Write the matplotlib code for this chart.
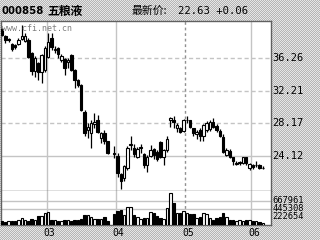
import numpy as np
import matplotlib
matplotlib.use('Agg')
import matplotlib.pyplot as plt
from matplotlib.colors import ListedColormap
from matplotlib.transforms import blended_transform_factory

# daily candles, Feb -> mid June (index 33 = no trade)
opens = [39.85, 39.00, 38.50, 38.00, 37.90, 38.00, 38.60, 38.40, 38.50, 36.90,
         34.60, 35.60, 34.50, 34.80, 36.40, 38.70, 37.30, 37.50, 36.00, 36.10,
         35.80, 36.60, 34.80, 33.50, 32.90, 29.50, 27.30, 26.90, 28.00, 28.60,
         26.30, 26.90, 25.90, np.nan, 24.40, 24.10, 21.80, 21.40, 22.60, 25.40,
         25.10, 24.00, 25.10, 24.30, 23.00, 24.10, 24.90, 24.60, 25.80, 23.90,
         24.80, 28.50, 28.60, 27.60, 27.50, 27.20, 28.50, 28.50, 27.50, 26.80,
         27.30, 26.60, 27.30, 27.40, 28.30, 27.80, 27.20, 26.50, 24.20, 24.70,
         23.90, 23.10, 23.20, 23.20, 23.90, 22.60, 23.00, 22.90, 23.00, 22.57]
highs = [40.00, 39.10, 38.80, 38.10, 38.00, 38.70, 40.30, 39.30, 38.70, 37.00,
         36.50, 35.80, 36.80, 37.70, 39.40, 39.40, 37.70, 37.60, 36.80, 36.30,
         36.30, 36.80, 34.90, 33.60, 33.00, 29.80, 28.20, 28.60, 29.40, 29.20,
         27.00, 27.30, 26.00, np.nan, 25.30, 24.40, 22.00, 23.00, 25.30, 26.60,
         25.60, 25.20, 25.60, 24.50, 24.20, 25.40, 25.10, 24.80, 26.00, 25.00,
         26.60, 28.90, 29.00, 28.20, 27.70, 28.70, 29.00, 28.60, 27.60, 27.30,
         27.50, 28.10, 28.40, 28.50, 28.80, 28.00, 27.40, 26.80, 25.10, 24.90,
         24.00, 23.40, 23.50, 24.00, 24.00, 23.20, 23.10, 23.50, 23.10, 22.80]
lows = [38.95, 38.10, 38.30, 37.10, 37.40, 37.90, 38.50, 38.30, 36.20, 34.20,
        33.90, 33.50, 33.20, 34.50, 36.20, 37.30, 36.90, 36.30, 35.80, 34.20,
        35.00, 34.60, 32.50, 32.60, 29.70, 26.60, 26.30, 25.10, 27.50, 26.90,
        25.70, 25.60, 24.30, np.nan, 23.80, 21.50, 20.00, 21.00, 22.40, 24.80,
        23.90, 23.80, 24.50, 22.60, 22.10, 24.00, 23.70, 23.40, 23.80, 22.90,
        24.60, 27.70, 27.60, 27.00, 26.90, 27.00, 28.20, 27.50, 26.60, 26.20,
        26.00, 26.00, 27.10, 27.20, 27.50, 27.00, 26.40, 24.40, 24.10, 23.80,
        22.90, 22.90, 23.00, 23.10, 23.00, 22.40, 22.50, 22.70, 22.50, 22.50]
closes = [39.10, 38.50, 38.60, 37.40, 37.60, 38.50, 39.00, 39.00, 36.40, 34.60,
          36.30, 34.50, 36.60, 37.50, 38.30, 37.60, 37.40, 36.70, 36.50, 35.00,
          36.00, 34.80, 33.50, 32.90, 29.80, 26.90, 27.70, 28.20, 28.30, 27.00,
          26.90, 26.00, 24.40, np.nan, 24.30, 22.00, 21.00, 22.80, 25.10, 25.60,
          24.30, 25.00, 25.20, 23.00, 24.00, 24.80, 24.20, 23.70, 24.00, 24.80,
          26.20, 28.80, 28.30, 27.90, 27.10, 28.60, 28.60, 27.70, 26.90, 27.10,
          26.60, 27.90, 28.20, 28.30, 27.70, 27.30, 26.60, 24.60, 24.80, 24.00,
          23.40, 23.20, 23.30, 23.90, 23.20, 23.10, 22.70, 23.00, 22.57, 22.63]
volumes = [119700, 75100, 119700, 103000, 119700, 147500, 194800, 130800, 103000, 167000,
           147500, 242100, 242100, 334000, 353500, 147500, 130800, 103000, 103000, 130800,
           130800, 103000, 130800, 130800, 167000, 286700, 286700, 214300, 167000, 175300,
           167000, 214300, 111300, np.nan, 306200, 381300, 425800, 286700, 501000, 501000,
           286700, 214300, 175300, 194800, 194800, 361800, 334000, 242100, 194800, 175300,
           473100, 890600, 612300, 334000, 334000, 398000, 334000, 306200, 306200, 194800,
           214300, 334000, 306200, 194800, 130800, 194800, 214300, 334000, 214300, 147500,
           130800, 103000, 130800, 103000, 130800, 130800, 103000, 103000, 75100, 64000]

price_ticks = [36.26, 32.21, 28.17, 24.12]
vol_ticks = [667961, 445308, 222654]
month_labels = ['03', '04', '05', '06']
month_starts = [14, 35, 56, 76]

W, H = 320, 240
fig = plt.figure(figsize=(3.2, 2.4), dpi=100)

# dithered grey backdrop
bg = fig.add_axes([0, 0, 1, 1])
yy, xx = np.mgrid[0:H, 0:W]
bg.imshow((xx + yy) % 2, cmap=ListedColormap(['#e6e6e6', '#b4b4b4']),
          interpolation='nearest', aspect='auto')
bg.axis('off')


def box(x0, y0, x1, y1):
    return [x0 / W, 1 - y1 / H, (x1 - x0) / W, (y1 - y0) / H]


ax = fig.add_axes(box(1, 21, 271, 191))
vax = fig.add_axes(box(1, 191, 271, 225))

o = np.array(opens)
c = np.array(closes)
x = np.arange(len(o))
ok = ~np.isnan(o)
up = c >= o
colors = ['white' if u else 'black' for u in up]

for a in (ax, vax):
    a.set_facecolor('white')
    a.set_xlim(-0.3, 81.5)
    a.set_xticks([])
    a.set_yticks([])
    for s in a.spines.values():
        s.set_color('#606060')
        s.set_linewidth(1)
ax.set_ylim(19.73, 40.85)
vax.set_ylim(0, 946000)
ax.spines['bottom'].set_linestyle((0, (1, 1)))
vax.spines['top'].set_visible(False)

# grid
for p in price_ticks:
    if p == price_ticks[-1]:
        ax.axhline(p, color='#c4c4c4', lw=1, zorder=0)
    else:
        ax.axhline(p, color='#c4c4c4', lw=1, ls=(0, (3, 2)), zorder=0)
for v in vol_ticks[:2]:
    vax.axhline(v, color='#c4c4c4', lw=1, zorder=0)
for i, m in enumerate(month_starts):
    for a in (ax, vax):
        if i == 2:
            a.axvline(m - 0.5, color='#909090', lw=1, ls=(0, (2, 2)), zorder=0)
        else:
            a.axvline(m - 0.5, color='#c4c4c4', lw=1, zorder=0)

# candles
ax.vlines(x[ok], np.array(lows)[ok], np.array(highs)[ok], color='black', lw=0.9, zorder=2)
body = np.maximum(np.abs(c - o), 0.05)
ax.bar(x[ok], body[ok], bottom=np.minimum(o, c)[ok], width=0.75,
       color=np.array(colors)[ok], edgecolor='black', linewidth=0.8, zorder=3)

# volume
vol = np.array(volumes)
vax.bar(x[ok], vol[ok], width=0.75, color=np.array(colors)[ok],
        edgecolor='black', linewidth=0.8, zorder=3)

# axis labels
tr = blended_transform_factory(ax.transAxes, ax.transData)
for p in price_ticks:
    ax.text(1.004, p, f'{p:.2f}', transform=tr, fontsize=7.5, family='DejaVu Sans Mono',
            ha='left', va='center', clip_on=False)
tv = blended_transform_factory(vax.transAxes, vax.transData)
for v in vol_ticks:
    vax.text(1.004, v, str(v), transform=tv, fontsize=6.3, family='DejaVu Sans Mono',
             ha='left', va='center', clip_on=False)
tm = blended_transform_factory(vax.transData, fig.transFigure)
for lab, m in zip(month_labels, month_starts):
    vax.text(m + 0.3, 1 - 233 / H, lab, transform=tm, fontsize=7,
             family='DejaVu Sans Mono', ha='center', va='center')

ax.text(0.004, 0.985, 'www.cfi.net.cn', transform=ax.transAxes, fontsize=6,
        family='DejaVu Sans Mono', color='#808080', ha='left', va='top')

# header
fig.text(2 / W, 1 - 11 / H, '000858', fontsize=7.3, weight='bold', family='DejaVu Sans',
         va='center', ha='left')
fig.text(47 / W, 1 - 11 / H, '五粮液', fontsize=8.5, weight='bold',
         family=['Noto Sans CJK SC', 'DejaVu Sans'], va='center', ha='left')
fig.text(132 / W, 1 - 11 / H, '最新价:', fontsize=7.8,
         family=['Noto Sans CJK SC', 'DejaVu Sans'], va='center', ha='left')
fig.text(178 / W, 1 - 11 / H, '22.63 +0.06', fontsize=7.6, family='DejaVu Sans Mono',
         va='center', ha='left')

fig.savefig('out.png', dpi=100)
